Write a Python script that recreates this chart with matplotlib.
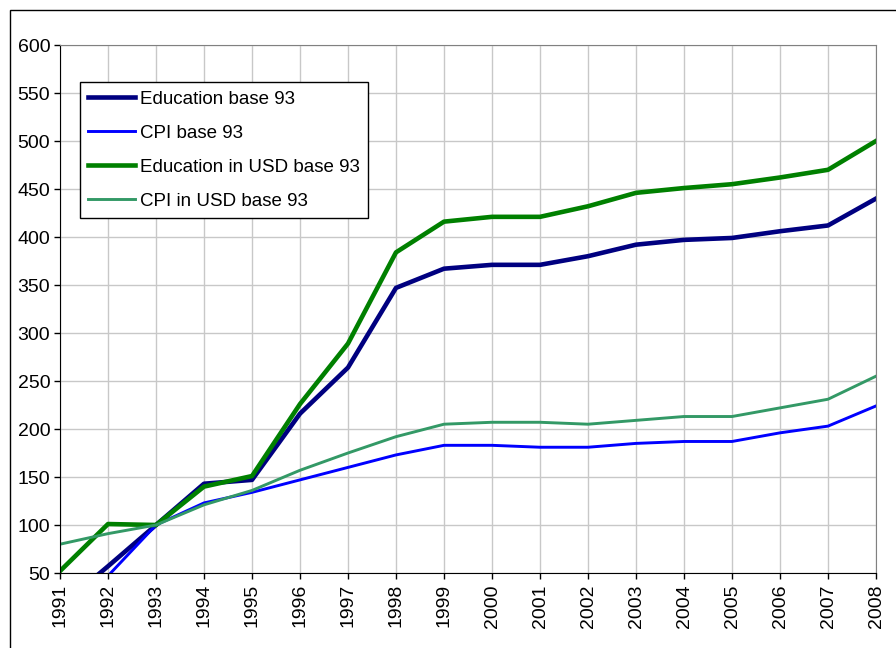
import matplotlib
matplotlib.use('Agg')
import matplotlib.pyplot as plt
from matplotlib.patches import Rectangle

plt.rcParams['font.family'] = ['Liberation Sans', 'DejaVu Sans']

years = list(range(1991, 2009))
education = [15, 57, 100, 143, 147, 216, 264, 347, 367, 371, 371, 380, 392, 397, 399, 406, 412, 440]
cpi = [10, 47, 100, 123, 134, 147, 160, 173, 183, 183, 181, 181, 185, 187, 187, 196, 203, 224]
education_usd = [52, 101, 100, 140, 151, 226, 289, 384, 416, 421, 421, 432, 446, 451, 455, 462, 470, 500]
cpi_usd = [80, 91, 100, 121, 136, 157, 175, 192, 205, 207, 207, 205, 209, 213, 213, 222, 231, 255]

fig = plt.figure(figsize=(8.96, 6.48), dpi=100)
# outer chart frame (runs off the right and bottom edges)
fig.patches.append(Rectangle((10 / 896, -0.1), 1.2, 1 - 10 / 648 + 0.1,
                             transform=fig.transFigure, fill=False,
                             edgecolor='black', linewidth=1.0))

ax = fig.add_axes([60 / 896, 1 - 573 / 648, 816 / 896, 528 / 648])

ax.plot(years, education, color='#000080', lw=3.3, label='Education base 93')
ax.plot(years, cpi, color='#0000FF', lw=2.1, label='CPI base 93')
ax.plot(years, education_usd, color='#008000', lw=3.3, label='Education in USD base 93')
ax.plot(years, cpi_usd, color='#339966', lw=2.1, label='CPI in USD base 93')

ax.set_xlim(1991, 2008)
ax.set_ylim(50, 600)
ax.set_yticks(range(50, 601, 50))
ax.set_xticks(years)
ax.set_xticklabels([str(y) for y in years], rotation=90)
ax.tick_params(axis='both', labelsize=14, direction='out', length=4, width=1)
ax.tick_params(axis='x', pad=4)
ax.tick_params(axis='y', pad=3)
ax.grid(True, color='#c8c8c8', linewidth=1)
ax.set_axisbelow(True)

for side in ['top', 'right']:
    ax.spines[side].set_color('#808080')
for side in ['left', 'bottom']:
    ax.spines[side].set_color('black')

leg = ax.legend(loc='upper left', bbox_to_anchor=(20 / 816, 1 - 37 / 528),
                borderaxespad=0, fontsize=13.5, fancybox=False, framealpha=1,
                edgecolor='black', handlelength=2.5, handletextpad=0.25,
                labelspacing=0.9, borderpad=0.45)
leg.get_frame().set_linewidth(1.0)

fig.savefig('out.png', dpi=100)
